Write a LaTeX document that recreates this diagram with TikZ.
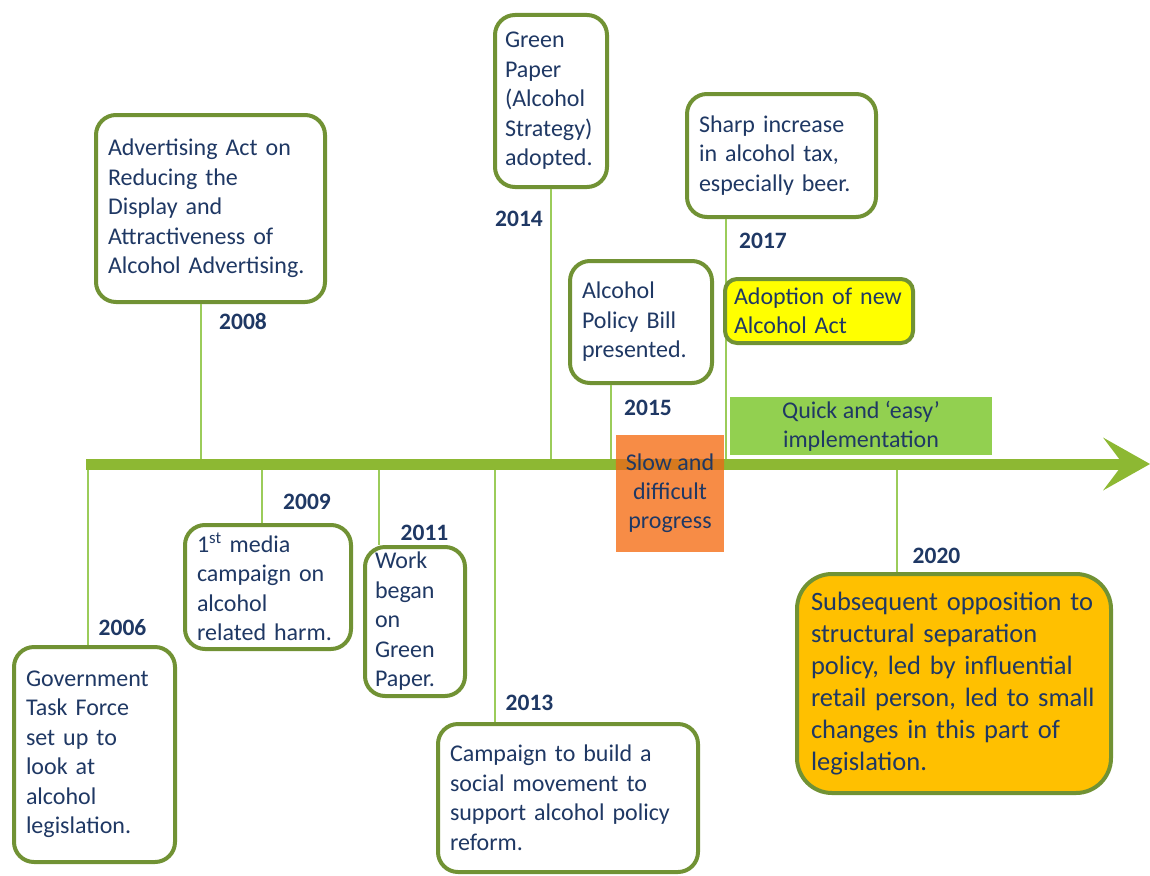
\documentclass[tikz,border=0pt]{standalone}
\usepackage{fontspec}
\setmainfont{Carlito}
\usetikzlibrary{arrows.meta}

\definecolor{navy}{RGB}{31,56,100}
\definecolor{boxline}{RGB}{113,146,52}
\definecolor{barline}{RGB}{141,184,51}
\definecolor{stem}{RGB}{155,204,90}
\definecolor{quickfill}{RGB}{146,208,80}
\definecolor{slowfill}{RGB}{247,140,70}
\definecolor{slowbar}{RGB}{214,122,30}
\definecolor{amber}{RGB}{255,192,0}
\definecolor{lemon}{RGB}{255,255,0}

\hyphenpenalty=10000
\exhyphenpenalty=10000

\tikzset{
  event/.style={draw=boxline, line width=4pt, fill=white, rounded corners=20pt,
    align=left, inner xsep=12pt, inner ysep=0pt, text=navy,
    font=\fontsize{24}{29.5}\selectfont},
  year/.style={text=navy, inner sep=0pt,
    font=\fontsize{23.5}{28}\selectfont\bfseries},
  stemline/.style={draw=stem, line width=2pt},
  band/.style={inner sep=0pt, align=center, text=navy,
    font=\fontsize{24}{29}\selectfont},
  timeline/.style={draw=barline, line width=11pt,
    -{Stealth[length=47pt, width=53pt, inset=20pt, line width=0pt]}}
}

\begin{document}
\begin{tikzpicture}[x=1pt, y=-1pt]
\useasboundingbox (0,0) rectangle (1150,875);

% timeline end points and stem feet
\coordinate (tl0) at (86,464);
\coordinate (tl1) at (1150,464);
\foreach \n/\x in {06/88, 08/201, 09/262, 11/379, 13/495, 14/551, 15/611, 17/726, 20/897}
  \coordinate (p\n) at (\x,464);

% event boxes
\node[event, text width=137pt, minimum height=215pt] (b06) at (94.5,754.5)
  {Government\\Task Force\\set up to\\look at\\alcohol\\legislation.};
\node[event, text width=205pt, minimum height=187pt] (b08) at (210.5,208.5)
  {Advertising Act on\\Reducing the\\Display and\\Attractiveness of\\Alcohol Advertising.};
\node[event, text width=142pt, minimum height=124pt] (b09) at (268,587)
  {1\textsuperscript{st} media\\campaign on\\alcohol\\related harm.};
\node[event, inner xsep=10pt, text width=80pt, minimum height=149pt] (b11) at (415,621.5)
  {Work\\began\\on\\Green\\Paper.};
\node[event, text width=236pt, minimum height=148pt] (b13) at (568,798)
  {Campaign to build a\\social movement to\\support alcohol policy\\reform.};
\node[event, inner xsep=10pt, text width=92pt, minimum height=172pt] (b14) at (551,101)
  {Green\\Paper\\(Alcohol\\Strategy)\\adopted.};
\node[event, text width=118pt, minimum height=122pt] (b15) at (641,322)
  {Alcohol\\Policy Bill\\presented.};
\node[event, text width=165pt, minimum height=123pt] (b17) at (781.5,155.5)
  {Sharp increase\\in alcohol tax,\\especially beer.};

% stems between the boxes and the timeline
\draw[stemline] (p06) -- (p06 |- b06.north);
\draw[stemline] (b08.south -| p08) -- (p08);
\draw[stemline] (p09) -- (p09 |- b09.north);
\draw[stemline] (p11) -- (p11 |- b11.north);
\draw[stemline] (p13) -- (p13 |- b13.north);
\draw[stemline] (b14.south -| p14) -- (p14);
\draw[stemline] (b15.south -| p15) -- (p15);
\draw[stemline] (b17.south -| p17) -- (p17);

% later boxes
\node[event, fill=lemon, rounded corners=12pt, inner xsep=9pt, text width=170pt,
  minimum height=64pt] (act) at (819,311)
  {Adoption of new\\Alcohol Act};
\node[event, fill=amber, rounded corners=35pt, inner xsep=14pt, text width=286pt,
  minimum height=219pt, font=\fontsize{26.5}{32}\selectfont] (b20) at (954,683.5)
  {Subsequent opposition to\\structural separation\\policy, led by influential\\retail person, led to small\\changes in this part of\\legislation.};
\draw[stemline] (p20) -- (p20 |- b20.north);

% the timeline arrow
\draw[timeline] (tl0) -- (tl1);

% phase bands
\node[band, fill=quickfill, minimum width=262pt, minimum height=58pt] (quick) at (861,426)
  {Quick and ‘easy’\\implementation};
\node[band, fill=slowfill, minimum width=108pt, minimum height=117pt] (slow) at (670,493.5) {};
% the timeline showing through the orange band
\begin{scope}
  \clip (slow.south west) rectangle (slow.north east);
  \draw[draw=slowbar, line width=11pt] (tl0) -- (tl1);
\end{scope}
\node[band] (slowtext) at (slow.center) {Slow and\\difficult\\progress};

% year labels
\node[year] (y06) at (122.5,627.5) {2006};
\node[year] (y08) at (243,321.5) {2008};
\node[year] (y09) at (307,501.5) {2009};
\node[year] (y11) at (424.5,532.5) {2011};
\node[year] (y13) at (529.5,702.5) {2013};
\node[year] (y14) at (519,218.5) {2014};
\node[year] (y15) at (648,407.5) {2015};
\node[year] (y17) at (763,240.5) {2017};
\node[year] (y20) at (936.5,555.5) {2020};
\end{tikzpicture}
\end{document}
